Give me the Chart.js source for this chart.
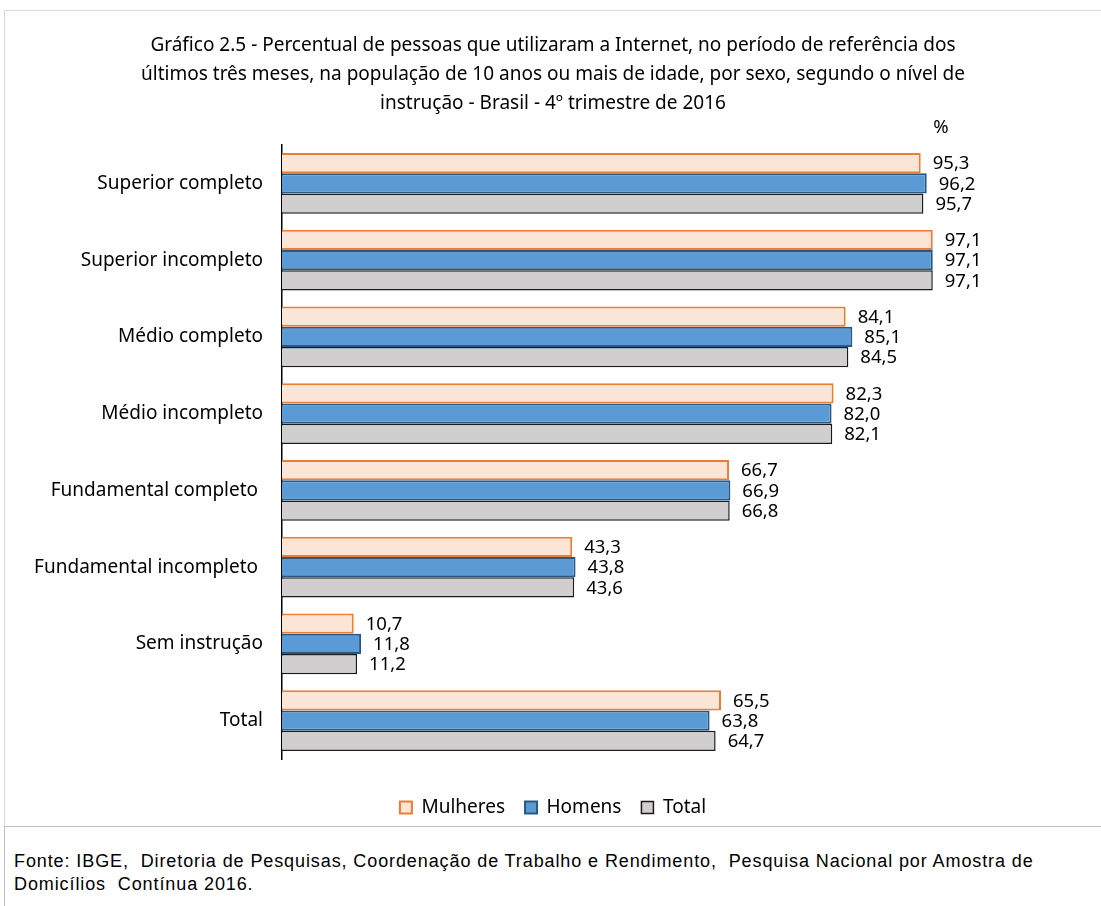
<!DOCTYPE html>
<html>
<head>
<meta charset="utf-8">
<script src="https://cdn.jsdelivr.net/npm/chart.js@4.4.0/dist/chart.umd.min.js"></script>
<style>
  body { margin: 0; background: #fff; width: 1101px; height: 906px; overflow: hidden; position: relative; }
  #box { position: absolute; left: 4px; top: 10px; width: 1097px; height: 815px; border-top: 1px solid #d9d9d9; border-left: 1px solid #d9d9d9; }
  #box canvas { display: block; }
  #fonte { position: absolute; left: 4px; top: 826px; width: 1097px; height: 80px; background: #fff; border-top: 1px solid #bfbfbf; border-left: 1px solid #bfbfbf;
    font-family: "Liberation Sans", Arial, sans-serif; font-size: 18px; line-height: 23px; color: #000; padding: 23px 0 0 9px; box-sizing: border-box; letter-spacing: 0.9px; }
</style>
</head>
<body>
<div id="box"><canvas id="chart" width="1096" height="816"></canvas></div>
<div id="fonte">Fonte: IBGE,&nbsp; Diretoria de Pesquisas, Coordenação de Trabalho e Rendimento,&nbsp; Pesquisa Nacional por Amostra de<br>Domicílios&nbsp; Contínua 2016.</div>
<script>
// categorias (nível de instrução)
const categorias = ['Superior completo', 'Superior incompleto', 'Médio completo', 'Médio incompleto',
  'Fundamental completo ', 'Fundamental incompleto ', 'Sem instrução', 'Total'];

// percentuais por sexo
const mulheres = [95.3, 97.1, 84.1, 82.3, 66.7, 43.3, 10.7, 65.5];
const homens   = [96.2, 97.1, 85.1, 82.0, 66.9, 43.8, 11.8, 63.8];
const total    = [95.7, 97.1, 84.5, 82.1, 66.8, 43.6, 11.2, 64.7];

const titulo = [
  'Gráfico 2.5 - Percentual de pessoas que utilizaram a Internet, no período de referência dos',
  'últimos três meses, na população de 10 anos ou mais de idade, por sexo, segundo o nível de',
  'instrução - Brasil - 4º trimestre de 2016'
];

const FONT = '"Noto Sans", "Open Sans", sans-serif';

// rótulos de valor ao lado das barras + o "%"
const valueLabels = {
  id: 'valueLabels',
  afterDatasetsDraw(chart) {
    const ctx = chart.ctx;
    ctx.save();
    ctx.font = '18.5px ' + FONT;
    ctx.fillStyle = '#000';
    ctx.textBaseline = 'middle';
    ctx.textAlign = 'left';
    chart.data.datasets.forEach((ds, i) => {
      chart.getDatasetMeta(i).data.forEach((bar, j) => {
        const txt = ds.data[j].toFixed(1).replace('.', ',');
        ctx.fillText(txt, bar.x + 12, bar.y + 1);
      });
    });
    ctx.textAlign = 'center';
    ctx.fillText('%', 936, 117);
    ctx.restore();
  }
};

new Chart(document.getElementById('chart').getContext('2d'), {
  type: 'bar',
  data: {
    labels: categorias,
    datasets: [
      { label: 'Mulheres', data: mulheres, backgroundColor: '#fbe5d6', borderColor: '#ed7d31', borderWidth: 2 },
      { label: 'Homens', data: homens, backgroundColor: '#5b9bd5', borderColor: '#2a5885', borderWidth: 2 },
      { label: 'Total', data: total, backgroundColor: '#d0cece', borderColor: '#1a1a1a', borderWidth: 1.5 }
    ]
  },
  options: {
    indexAxis: 'y',
    responsive: false,
    animation: false,
    layout: { padding: 0 },
    datasets: { bar: { categoryPercentage: 0.79, barPercentage: 1.0, borderSkipped: 'left' } },
    scales: {
      x: {
        min: 0, max: 122.2,
        grid: { display: false },
        border: { display: false },
        ticks: { display: false },
        afterFit: (s) => { s.height = 19; }
      },
      y: {
        grid: { display: false, drawTicks: false },
        border: { display: true, color: '#000', width: 1.5 },
        ticks: { color: '#000', font: { family: FONT, size: 19 }, padding: 19 },
        afterFit: (s) => { s.width = 277; }
      }
    },
    plugins: {
      title: {
        display: true,
        text: titulo,
        color: '#000',
        font: { family: FONT, size: 19, weight: 'normal', lineHeight: '29px' },
        padding: { top: 20, bottom: 27 }
      },
      legend: {
        position: 'bottom',
        labels: {
          color: '#000',
          font: { family: FONT, size: 19 },
          boxWidth: 12, boxHeight: 12,
          padding: 20
        }
      },
      tooltip: { enabled: false }
    }
  },
  plugins: [valueLabels]
});
</script>
</body>
</html>
